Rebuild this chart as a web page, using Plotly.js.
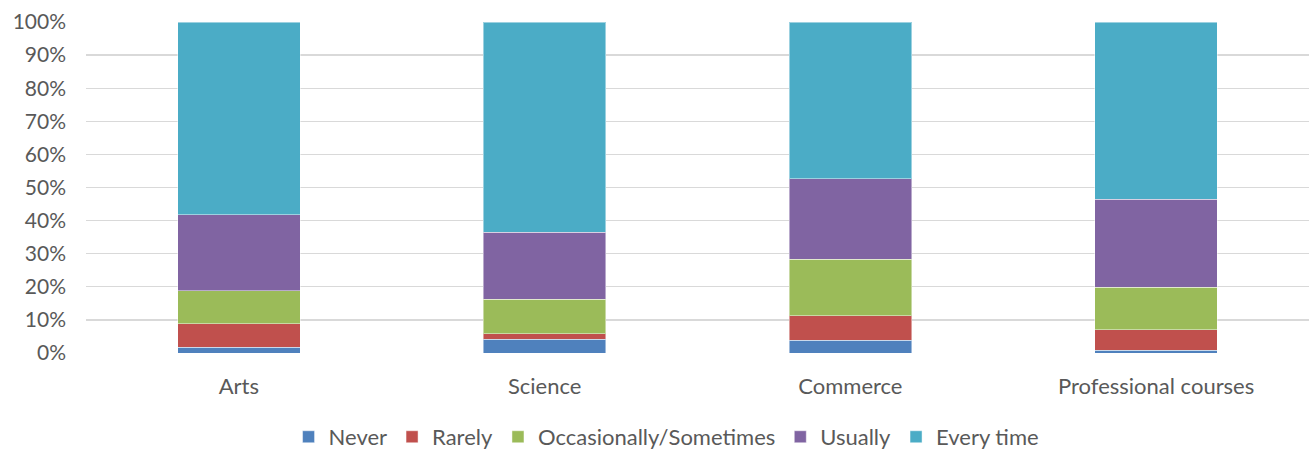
<!DOCTYPE html>
<html>
<head>
<meta charset="utf-8">
<script src="https://cdn.plot.ly/plotly-3.0.1.min.js"></script>
<style>html,body{margin:0;padding:0;background:#fff}#chart{width:1309px;height:450px}</style>
</head>
<body>
<div id="chart"></div>
<script>
const categories = ["Arts", "Science", "Commerce", "Professional courses"];
const never = [1.7, 4.2, 3.9, 0.9];
const rarely = [7.1, 1.6, 7.3, 6.1];
const occasionally = [10.0, 10.5, 17.2, 12.9];
const usually = [23.0, 20.2, 24.2, 26.5];
const everyTime = [58.2, 63.5, 47.4, 53.6];
const yTicks = [0, 10, 20, 30, 40, 50, 60, 70, 80, 90, 100];
const yTickLabels = yTicks.map(v => v + "%");

const seriesNames = ["Never", "Rarely", "Occasionally/Sometimes", "Usually", "Every time"];
const seriesValues = [never, rarely, occasionally, usually, everyTime];
const colors = ["#4F81BD", "#C0504D", "#9BBB59", "#8064A2", "#4BACC6"];

const traces = seriesNames.map((n, i) => ({
  type: "bar",
  name: n,
  x: categories,
  y: seriesValues[i],
  marker: {color: colors[i], line: {color: "rgba(255,255,255,0.45)", width: 1}},
  hoverinfo: "x+y+name"
}));

const font = "Lato, 'Open Sans', sans-serif";
const layout = {
  width: 1309, height: 450,
  margin: {l: 86, r: 0, t: 22, b: 97},
  barmode: "stack",
  bargap: 0.6,
  paper_bgcolor: "#fff", plot_bgcolor: "#fff",
  font: {family: font, size: 22, color: "#595959"},
  xaxis: {
    showgrid: false, zeroline: false, showline: false,
    ticks: "", ticklabelstandoff: 18, tickfont: {size: 22, color: "#595959"}
  },
  yaxis: {
    range: [0, 100], tickvals: yTicks, ticktext: yTickLabels,
    showgrid: true, gridcolor: "#D9D9D9", gridwidth: 1.3,
    zeroline: false, showline: false, ticks: "",
    ticklabelstandoff: 19, tickfont: {size: 21, color: "#595959"}
  },
  showlegend: true,
  legend: {
    orientation: "h", x: 0.4747, xanchor: "center",
    yref: "container", y: 0.029, yanchor: "middle",
    font: {size: 22, color: "#595959"}, traceorder: "normal", itemwidth: 30
  }
};
Plotly.newPlot("chart", traces, layout, {displayModeBar: false, staticPlot: true});
</script>
</body>
</html>
